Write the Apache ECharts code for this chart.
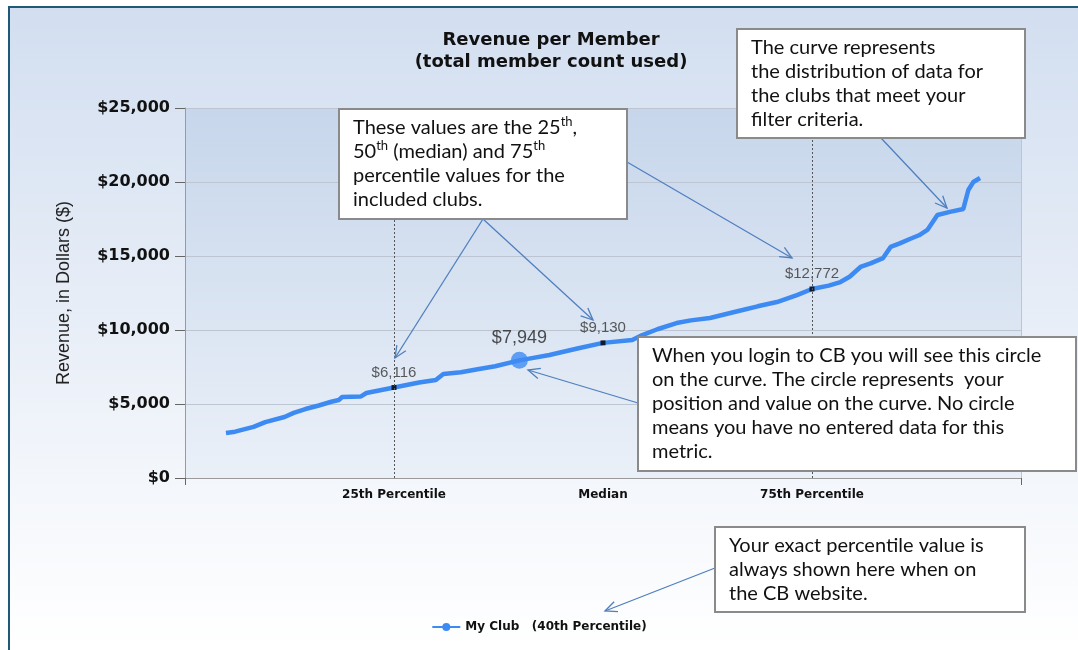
<!DOCTYPE html>
<html>
<head>
<meta charset="utf-8">
<script src="https://cdn.jsdelivr.net/npm/echarts@6/dist/echarts.min.js"></script>
<style>
  html, body { margin: 0; padding: 0; background: #fff; }
  #chart { width: 1078px; height: 650px; }
</style>
</head>
<body>
<div id="chart"></div>
<script>
// curve: percentile position of each club and its revenue per member
var percentiles = [4.9, 6.0, 8.2, 9.6, 11.9, 13.0, 14.4, 16.0, 17.5, 18.4, 18.8, 21.0, 21.7, 25,
  28.0, 30.0, 30.9, 33.0, 35.0, 37.1, 40, 41.0, 43.6, 45.0, 47.2, 50,
  53.5, 54.7, 56.5, 58.8, 60.5, 62.8, 64.5, 66.7, 68.5, 70.8, 73.2, 75,
  77.0, 78.4, 79.5, 80.8, 82.0, 83.5, 84.4, 85.5, 86.7, 87.8, 88.8, 90.0, 91.5, 93.1, 93.7, 94.3, 95.1];
var revenue = [3040, 3130, 3450, 3780, 4120, 4400, 4660, 4900, 5150, 5270, 5470, 5500, 5740, 6116,
  6450, 6620, 7030, 7150, 7350, 7550, 7949, 8050, 8310, 8500, 8780, 9130,
  9320, 9660, 10050, 10470, 10650, 10810, 11050, 11350, 11600, 11890, 12360, 12772,
  13000, 13240, 13600, 14260, 14500, 14860, 15610, 15850, 16150, 16400, 16760, 17770, 17980, 18180, 19460, 20000, 20270];

// 25th / median / 75th percentile values
var markPct = [25, 50, 75];
var markVal = [6116, 9130, 12772];

// my club
var clubPct = [40];
var clubVal = [7949];

var xLabelPos = [25, 50, 75];
var xLabelText = ['25th Percentile', 'Median', '75th Percentile'];

var seriesName = 'My Club   (40th Percentile)';

var chart = echarts.init(document.getElementById('chart'));

function money(v) {
  return '$' + v.toLocaleString('en-US');
}

var arrowColor = '#4f7fbf';
function arrow(x1, y1, x2, y2) {
  var a = Math.atan2(y2 - y1, x2 - x1), L = 13, s = 0.42;
  return {
    type: 'group',
    children: [
      { type: 'line', zlevel: 1, z: 90, shape: { x1: x1, y1: y1, x2: x2, y2: y2 },
        style: { stroke: arrowColor, lineWidth: 1.3 } },
      { type: 'polyline', zlevel: 1, z: 90, shape: { points: [
          [x2 - L * Math.cos(a - s), y2 - L * Math.sin(a - s)], [x2, y2],
          [x2 - L * Math.cos(a + s), y2 - L * Math.sin(a + s)]] },
        style: { stroke: arrowColor, lineWidth: 1.3, fill: null } }
    ]
  };
}

var boxFont = 'Lato';
function box(x, y, w, h, text) {
  return {
    type: 'group',
    children: [
      { type: 'rect', zlevel: 1, z: 100, shape: { x: x, y: y, width: w, height: h },
        style: { fill: '#fff', stroke: '#8a8a8a', lineWidth: 2 } },
      { type: 'text', zlevel: 1, z: 101, x: x + 14, y: y + 6.5, style: {
          text: text, fontFamily: boxFont, fontSize: 20, lineHeight: 24, fill: '#111',
          verticalAlign: 'top',
          rich: {
            t: { fontFamily: boxFont, fontSize: 20, lineHeight: 24, fill: '#111' },
            s: { fontFamily: boxFont, fontSize: 13, lineHeight: 24, verticalAlign: 'top', fill: '#111' }
          } } }
    ]
  };
}

var option = {
  backgroundColor: '#fff',
  animation: false,
  title: {
    text: 'Revenue per Member\n(total member count used)',
    left: 546, top: 24, textAlign: 'center',
    textStyle: { fontFamily: 'DejaVu Sans', fontWeight: 'bold', fontSize: 18, lineHeight: 22, color: '#111' }
  },
  legend: {
    data: [seriesName],
    left: 'center', top: 616,
    itemWidth: 28, itemHeight: 10,
    textStyle: { fontFamily: 'DejaVu Sans', fontWeight: 'bold', fontSize: 12, color: '#111' }
  },
  grid: {
    left: 185, right: 57, top: 108, bottom: 172,
    show: true, borderWidth: 0,
    backgroundColor: new echarts.graphic.LinearGradient(0, 0, 0, 1, [
      { offset: 0, color: '#c7d6eb' }, { offset: 1, color: '#eaf0f8' }])
  },
  xAxis: {
    type: 'value', min: 0, max: 100, interval: 25,
    axisLine: { lineStyle: { color: '#9a9a9a', width: 1 } },
    axisTick: { show: true, customValues: [0, 100], length: 7, lineStyle: { color: '#666' } },
    axisLabel: {
      customValues: xLabelPos,
      margin: 11,
      fontFamily: 'DejaVu Sans', fontWeight: 'bold', fontSize: 12, color: '#111',
      formatter: function (v) {
        var i = xLabelPos.indexOf(v);
        return i >= 0 ? xLabelText[i] : '';
      }
    },
    splitLine: { show: true, lineStyle: { color: '#bcc5d1', width: 1 } }
  },
  yAxis: {
    type: 'value', min: 0, max: 25000, interval: 5000,
    name: 'Revenue, in Dollars ($)',
    nameLocation: 'middle', nameGap: 112, nameRotate: 90,
    nameTextStyle: { fontFamily: 'Liberation Sans', fontSize: 18, color: '#222' },
    axisLine: { show: true, lineStyle: { color: '#9a9a9a', width: 1 } },
    axisTick: { show: true, length: 10, lineStyle: { color: '#666' } },
    axisLabel: {
      margin: 15, fontFamily: 'DejaVu Sans', fontWeight: 'bold', fontSize: 16, color: '#111',
      formatter: function (v) { return money(v); }
    },
    splitLine: { show: true, lineStyle: { color: '#bcc5d1', width: 1 } }
  },
  series: [
    {
      name: seriesName,
      type: 'line',
      data: percentiles.map(function (p, i) { return [p, revenue[i]]; }),
      showSymbol: false, symbol: 'circle', symbolSize: 7,
      color: '#3d8bf2',
      lineStyle: { width: 4.5, color: '#3d8bf2' },
      z: 3,
      markLine: {
        silent: true, symbol: 'none', label: { show: false },
        lineStyle: { type: [2, 2], color: '#555', width: 1 },
        data: [{ xAxis: 25 }, { xAxis: 75 }]
      }
    },
    {
      name: 'percentiles',
      type: 'scatter',
      data: markPct.map(function (p, i) { return [p, markVal[i]]; }),
      symbol: 'rect', symbolSize: 5,
      itemStyle: { color: '#000' },
      z: 4,
      label: {
        show: true, position: 'top', distance: 5,
        fontFamily: 'Liberation Sans', fontSize: 15, color: '#333',
        formatter: function (p) { return money(p.value[1]); }
      }
    },
    {
      name: 'club',
      type: 'scatter',
      data: clubPct.map(function (p, i) { return [p, clubVal[i]]; }),
      symbol: 'circle', symbolSize: 17,
      itemStyle: { color: '#3d8bf2' },
      z: 5,
      label: {
        show: true, position: 'top', distance: 5,
        fontFamily: 'Liberation Sans', fontSize: 18, color: '#222',
        formatter: function (p) { return money(p.value[1]); }
      }
    }
  ],
  graphic: [
    // framed background
    { type: 'rect', z: -10, shape: { x: 8, y: 6, width: 1070, height: 644 },
      style: { fill: new echarts.graphic.LinearGradient(0, 0, 0, 1, [
        { offset: 0, color: '#d2def0' }, { offset: 1, color: '#ffffff' }]) } },
    { type: 'line', z: -9, shape: { x1: 9, y1: 6, x2: 9, y2: 650 }, style: { stroke: '#1e5a78', lineWidth: 2 } },
    { type: 'line', z: -9, shape: { x1: 8, y1: 7, x2: 1078, y2: 7 }, style: { stroke: '#1e5a78', lineWidth: 2 } },

    arrow(483, 219, 395, 358),
    arrow(483, 219, 593, 320),
    arrow(627, 162, 792, 258),
    arrow(881, 138, 947, 208),
    arrow(638, 403, 528, 370),
    arrow(715, 568, 605, 611),

    box(339, 109, 288, 110,
      '{t|These values are the 25}{s|th}{t|,}\n{t|50}{s|th}{t| (median) and 75}{s|th}\n{t|percentile values for the}\n{t|included clubs.}'),
    box(737, 29, 288, 109,
      'The curve represents\nthe distribution of data for\nthe clubs that meet your\nfilter criteria.'),
    box(638, 337, 438, 134,
      'When you login to CB you will see this circle\non the curve. The circle represents  your\nposition and value on the curve. No circle\nmeans you have no entered data for this\nmetric.'),
    box(715, 527, 310, 85,
      'Your exact percentile value is\nalways shown here when on\nthe CB website.')
  ]
};

chart.setOption(option);
</script>
</body>
</html>
